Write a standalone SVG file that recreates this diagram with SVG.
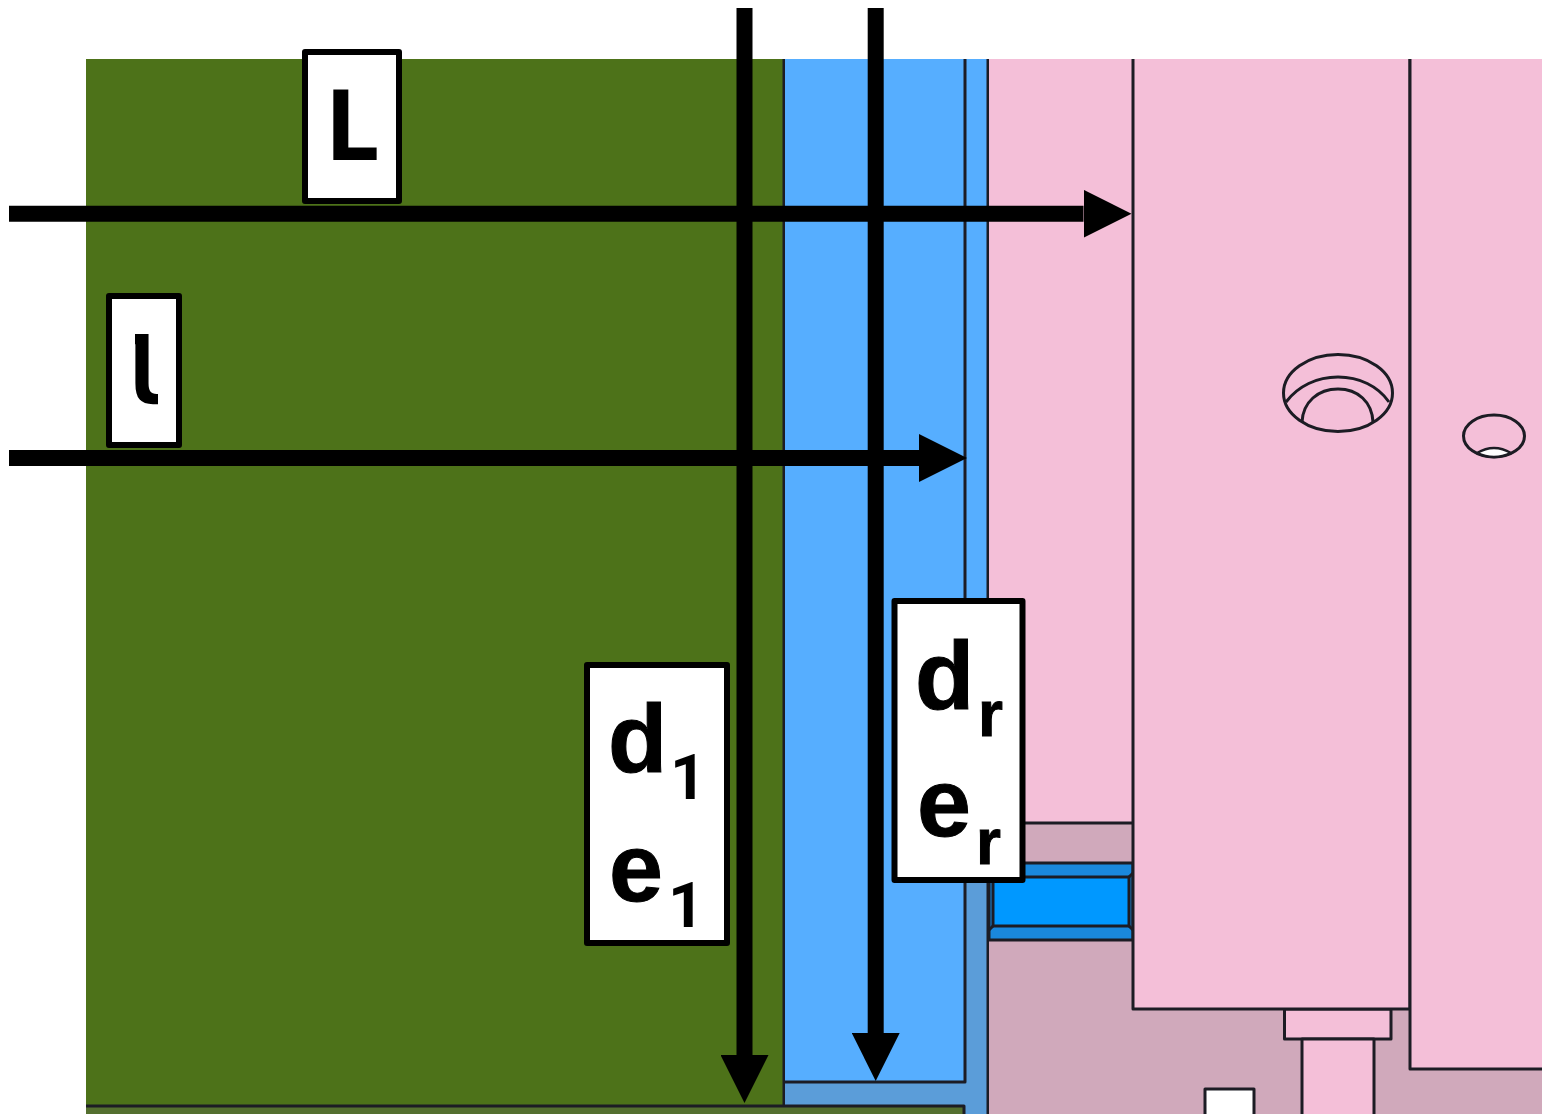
<svg xmlns="http://www.w3.org/2000/svg" width="1542" height="1114" viewBox="0 0 1542 1114">
<style>
.e{stroke:#1c1c24;stroke-width:3;stroke-linejoin:round}
.n{fill:none}
.gr{fill:#4d7219}.bl{fill:#56aeff}.db{fill:#5b9dd9}.pk{fill:#f4bfd8}.mv{fill:#d0a9bb}.mb{fill:#1a88dc}.vb{fill:#0098ff}
.box{fill:#fff;stroke:#000;stroke-width:6;stroke-linejoin:round}
.t{font-family:"Liberation Sans",Arial,sans-serif;font-weight:700;fill:#000;stroke:#000;stroke-width:1}
.o{font-family:Roboto,"Liberation Sans",sans-serif;font-weight:700;font-size:63px;fill:#000}
.b{font-size:97px}.s{font-size:64px}
.c{stroke:#000;stroke-width:16;fill:none}
</style>
<defs>
<marker id="ah" markerUnits="userSpaceOnUse" markerWidth="48" markerHeight="48" viewBox="0 0 48 48" refX="0" refY="24" orient="auto"><path d="M0 0L48 24L0 48Z" fill="#000"/></marker>
<clipPath id="lclip"><rect x="135" y="325" width="23" height="90"/></clipPath>
</defs>
<rect width="1542" height="1114" fill="#fff"/>
<g id="green-block">
<rect class="gr" x="86" y="59" width="698" height="1055"/>
<path class="n e" d="M784 59V1106"/>
</g>
<g id="blue-block">
<rect class="db" x="785" y="59" width="204" height="1055"/>
<rect class="bl" x="785" y="59" width="179" height="1023"/>
<rect class="bl" x="964" y="59" width="25" height="764"/>
<path class="n e" d="M785 1082H965V59M988 59V1114"/>
</g>
<g id="green-strip">
<rect x="86" y="1106" width="878" height="8" fill="#546f2f"/>
<path class="n e" d="M86 1106H964V1114"/>
</g>
<g id="pink-left">
<rect class="pk" x="989" y="59" width="144" height="764"/>
<rect class="mv" x="989" y="823" width="553" height="291"/>
<path class="n e" d="M989 823H1133"/>
</g>
<g id="insert">
<rect class="mb e" x="989" y="863" width="144" height="77"/>
<rect class="vb e" x="993" y="877" width="136" height="49"/>
<path class="n e" d="M989 873L993 877M1133 873L1129 877M989 930L993 926M1133 930L1129 926"/>
</g>
<g id="pin">
<rect class="pk e" x="1284.500" y="1009" width="106.500" height="30"/>
<rect class="pk e" x="1302" y="1039" width="72" height="80"/>
</g>
<g id="pink-centre">
<rect class="pk e" x="1133" y="50" width="277" height="959"/>
</g>
<g id="pink-right">
<rect class="pk e" x="1410" y="50" width="140" height="1019"/>
</g>
<rect x="0" y="0" width="1542" height="59" fill="#fff"/>
<g id="hole-large">
<ellipse class="n e" cx="1338" cy="393" rx="54.500" ry="38.500"/>
<path class="n e" d="M1286 402C1298 386 1317 377 1338 377C1359 377 1378 386 1389 402"/>
<path class="n e" d="M1302 422C1303 402 1318 389 1338 389C1358 389 1372 402 1373 422"/>
</g>
<g id="hole-small">
<ellipse class="n e" cx="1494" cy="436" rx="30.500" ry="21"/>
<path d="M1477 453Q1494 443 1511 453Q1494 461 1477 453Z" fill="#fff" stroke="#1c1c24" stroke-width="2.500"/>
</g>
<g id="white-square">
<rect x="1205" y="1089" width="49" height="30" fill="#fff" class="e"/>
</g>
<g id="connectors">
<path class="c" d="M9 213.700H1083.500" marker-end="url(#ah)"/>
<path class="c" d="M9 458H919" marker-end="url(#ah)"/>
<path class="c" d="M744.500 8V1055" marker-end="url(#ah)"/>
<path class="c" d="M875.700 8V1033" marker-end="url(#ah)"/>
</g>
<g id="label-L">
<rect class="box" x="305" y="52" width="94" height="149"/>
<text x="325" y="160" font-family="Noto Sans,sans-serif" font-weight="700" font-size="98">L</text>
</g>
<g id="label-l">
<rect class="box" x="109" y="296" width="70" height="149"/>
<text x="118" y="405" clip-path="url(#lclip)" font-family="DejaVu Sans Mono,monospace" font-weight="700" font-size="92">l</text>
</g>
<g id="label-d1-e1">
<rect class="box" x="587" y="665" width="140" height="278"/>
<text class="t b" x="608" y="772">d</text>
<text class="o" x="670" y="799">1</text>
<text class="t b" x="609" y="901">e</text>
<text class="o" x="668" y="927">1</text>
</g>
<g id="label-dr-er">
<rect class="box" x="894.500" y="601" width="128" height="279"/>
<text class="t b" x="915" y="709">d</text>
<text class="t s" x="978" y="736">r</text>
<text class="t b" x="917" y="836">e</text>
<text class="t s" x="976" y="864">r</text>
</g>
</svg>
